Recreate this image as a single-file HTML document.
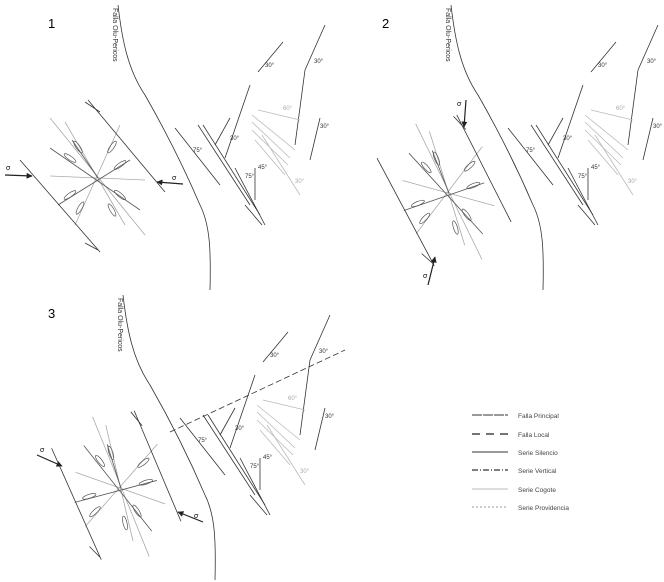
<!DOCTYPE html>
<html><head><meta charset="utf-8"><style>
html,body{margin:0;padding:0;background:#fff}
svg{display:block}
text{font-family:"Liberation Sans",sans-serif}
</style></head><body>
<svg width="664" height="582" viewBox="0 0 664 582" xmlns="http://www.w3.org/2000/svg" xmlns:xlink="http://www.w3.org/1999/xlink">
<defs>
<g id="base">
  <path d="M118,5 C122,40 128,70 145,95 C165,130 185,170 200,205 C210,225 211,250 210,290" fill="none" stroke="#333" stroke-width="0.8"/>
  <text x="0" y="0" font-size="7" fill="#333" transform="translate(113,8) rotate(90)">Falla Olu-Pericos</text>
  <g stroke="#333" stroke-width="0.8" fill="none">
    <line x1="175" y1="128" x2="220" y2="185"/>
    <line x1="198" y1="125" x2="250" y2="205"/>
    <line x1="203" y1="125" x2="260" y2="215"/>
    <line x1="235" y1="168" x2="265" y2="225"/>
    <line x1="245" y1="205" x2="262" y2="225"/>
    <line x1="225" y1="158" x2="250" y2="85"/>
    <line x1="215" y1="145" x2="230" y2="118"/>
    <line x1="258" y1="72" x2="283" y2="42"/>
    <line x1="325" y1="25" x2="305" y2="70"/>
    <polyline points="305,70 295,145"/>
    <line x1="320" y1="118" x2="310" y2="160"/>
    <polyline points="255,168 255,200"/>
  </g>
  <g stroke="#bbb" stroke-width="0.8">
    <line x1="252" y1="115" x2="295" y2="150"/>
    <line x1="252" y1="122" x2="290" y2="158"/>
    <line x1="252" y1="130" x2="288" y2="165"/>
    <line x1="255" y1="140" x2="285" y2="175"/>
    <line x1="258" y1="110" x2="300" y2="120"/>
    <line x1="262" y1="135" x2="300" y2="195"/>
  </g>
  <g font-size="6" fill="#333">
    <text x="265" y="67">30°</text>
    <text x="314" y="63">30°</text>
    <text x="230" y="140">30°</text>
    <text x="320" y="128">30°</text>
    <text x="193" y="152">75°</text>
    <text x="245" y="178">75°</text>
    <text x="258" y="169">45°</text>
    <text x="283" y="110" fill="#aaa">60°</text>
    <text x="295" y="183" fill="#aaa">30°</text>
  </g>
</g>
<g id="block">
  <g stroke="#aaa" stroke-width="0.8">
    <line x1="-47" y1="-60" x2="48" y2="57"/>
    <line x1="-32" y1="-56" x2="28" y2="47"/>
    <line x1="-47" y1="-2" x2="48" y2="2"/>
    <line x1="23" y1="-53" x2="-22" y2="47"/>
  </g>
  <g stroke="#555" stroke-width="0.8">
    <line x1="-47" y1="-30" x2="43" y2="32"/>
    <line x1="-39" y1="27" x2="33" y2="-18"/>
    <line x1="1" y1="0" x2="-25" y2="-38"/>
  </g>
  <g fill="none" stroke="#555" stroke-width="0.7">
    <ellipse cx="-27" cy="-20" rx="7" ry="2" transform="rotate(35 -27 -20)"/>
    <ellipse cx="-19" cy="-31" rx="7" ry="2" transform="rotate(55 -19 -31)"/>
    <ellipse cx="15" cy="-31" rx="7" ry="2" transform="rotate(-55 15 -31)"/>
    <ellipse cx="23" cy="-13" rx="7" ry="2" transform="rotate(-35 23 -13)"/>
    <ellipse cx="-27" cy="17" rx="7" ry="2" transform="rotate(-35 -27 17)"/>
    <ellipse cx="-17" cy="30" rx="7" ry="2" transform="rotate(-60 -17 30)"/>
    <ellipse cx="15" cy="32" rx="7" ry="2" transform="rotate(60 15 32)"/>
    <ellipse cx="23" cy="17" rx="7" ry="2" transform="rotate(40 23 17)"/>
  </g>
  <g stroke="#333" stroke-width="0.8" fill="none">
    <line x1="-77" y1="-18" x2="3" y2="74"/>
    <line x1="-9" y1="-78" x2="68" y2="14"/>
    <line x1="-12" y1="-76" x2="3" y2="-66"/>
    <line x1="-12" y1="65" x2="1" y2="72"/>
  </g>
</g>
<marker id="ah" viewBox="0 0 10 10" refX="9" refY="5" markerWidth="5" markerHeight="5" orient="auto"><path d="M0,0 L10,5 L0,10z" fill="#222"/></marker>
</defs>

<!-- Panel 1 -->
<text x="48" y="28" font-size="13">1</text>
<use xlink:href="#base"/>
<use xlink:href="#block" transform="translate(97,178)"/>
<line x1="5" y1="175" x2="32" y2="176" stroke="#222" stroke-width="1.2" marker-end="url(#ah)"/>
<text x="6" y="170" font-size="7">σ</text>
<line x1="183" y1="184" x2="157" y2="182" stroke="#222" stroke-width="1.2" marker-end="url(#ah)"/>
<text x="172" y="180" font-size="7">σ</text>

<!-- Panel 2 -->
<text x="382" y="28" font-size="13">2</text>
<use xlink:href="#base" transform="translate(333,0)"/>
<use xlink:href="#block" transform="translate(448,193) rotate(13)"/>
<line x1="466" y1="100" x2="464" y2="127" stroke="#222" stroke-width="1.2" marker-end="url(#ah)"/>
<text x="457" y="106" font-size="7">σ</text>
<line x1="428" y1="285" x2="435" y2="257" stroke="#222" stroke-width="1.2" marker-end="url(#ah)"/>
<text x="423" y="278" font-size="7">σ</text>

<!-- Panel 3 -->
<text x="48" y="318" font-size="13">3</text>
<use xlink:href="#base" transform="translate(5,290)"/>
<use xlink:href="#block" transform="translate(120,488) rotate(17)"/>
<line x1="37" y1="455" x2="62" y2="466" stroke="#222" stroke-width="1.2" marker-end="url(#ah)"/>
<text x="40" y="452" font-size="7">σ</text>
<line x1="203" y1="522" x2="178" y2="512" stroke="#222" stroke-width="1.2" marker-end="url(#ah)"/>
<text x="194" y="518" font-size="7">σ</text>
<line x1="170" y1="432" x2="345" y2="350" stroke="#333" stroke-width="0.8" stroke-dasharray="6,3"/>

<!-- Legend -->
<g stroke-width="1">
  <line x1="472" y1="415" x2="508" y2="415" stroke="#333" stroke-dasharray="10,1"/>
  <line x1="472" y1="434" x2="508" y2="434" stroke="#222" stroke-width="1.3" stroke-dasharray="8,6"/>
  <line x1="472" y1="452" x2="508" y2="452" stroke="#333"/>
  <line x1="472" y1="470" x2="508" y2="470" stroke="#333" stroke-width="1.3" stroke-dasharray="6,2,1,2"/>
  <line x1="472" y1="489" x2="508" y2="489" stroke="#bbb"/>
  <line x1="472" y1="507" x2="508" y2="507" stroke="#999" stroke-dasharray="2,2"/>
</g>
<g font-size="6.5" fill="#444">
  <text x="518" y="418">Falla Principal</text>
  <text x="518" y="437">Falla Local</text>
  <text x="518" y="455">Serie Silencio</text>
  <text x="518" y="473">Serie Vertical</text>
  <text x="518" y="492">Serie Cogote</text>
  <text x="518" y="510">Serie Providencia</text>
</g>
</svg>
</body></html>
